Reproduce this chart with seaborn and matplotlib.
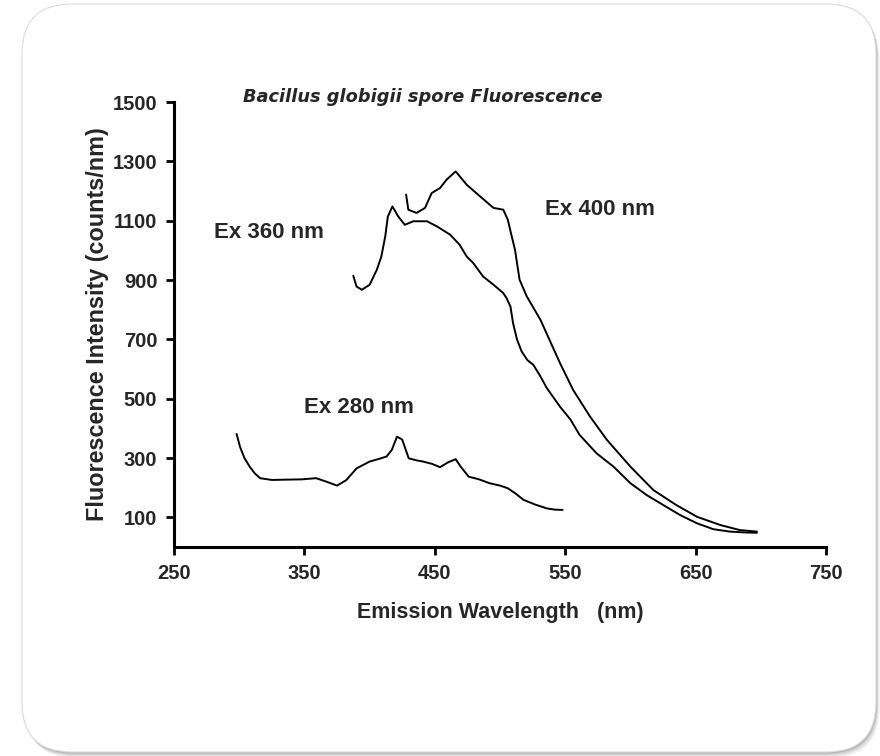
import matplotlib
matplotlib.use("Agg")
import matplotlib.pyplot as plt
import seaborn as sns
import numpy as np
import pandas as pd
from matplotlib.patches import FancyBboxPatch

sns.set_style("white")
plt.rcParams['font.family'] = ['Liberation Sans', 'DejaVu Sans']

# 数据
ex280_wl = [298, 300.6, 304, 308, 312, 316, 325, 336, 348, 359, 367, 375, 382, 390, 400, 408,
            413, 417, 421, 425, 430, 436, 441, 448, 454, 460, 466, 470, 476, 484, 492, 500,
            506, 512, 518, 527, 536, 542, 548]
ex280_val = [381, 338, 300, 271, 248, 232, 226, 227, 228, 232, 220, 207, 225, 265, 288, 298,
             305, 327, 372, 362, 299, 292, 288, 280, 269, 285, 296, 270, 237, 228, 215, 207,
             198, 180, 159, 143, 130, 126, 125]

ex360_wl = [387.5, 390, 394, 400, 405.5, 409, 412, 414, 417.5, 422, 427, 433.5, 444, 451.5,
            461.7, 469, 474.5, 479.5, 487, 495, 502.5, 505, 508, 510, 513, 516.6, 521, 525.6,
            531, 536, 546, 554, 561, 574, 587, 600, 612.5, 625, 638, 651, 663.6, 676, 688, 697]
ex360_val = [914, 878, 867, 884, 934, 979, 1047, 1114, 1148, 1114, 1086, 1098, 1098, 1081,
             1053, 1019, 979, 957, 912, 884, 856, 839, 811, 755, 700, 659, 630, 614,
             575, 535, 473, 430, 378, 316, 271, 215, 175, 142, 108, 80, 60, 52, 49, 48]

ex400_wl = [428, 429.7, 436, 442.5, 447.6, 454, 459, 466, 474.5, 484.7, 495, 502.5, 506, 509,
            511.5, 515, 520.5, 531, 546, 556, 569, 582, 600, 617.6, 635, 651, 669, 684, 697]
ex400_val = [1188, 1137, 1126, 1143, 1193, 1210, 1238, 1266, 1221, 1182, 1143, 1137, 1103, 1047,
             1002, 901, 845, 766, 620, 530, 440, 361, 271, 192, 142, 102, 74, 57, 52]

x_ticks = [250, 350, 450, 550, 650, 750]
y_ticks = [100, 300, 500, 700, 900, 1100, 1300, 1500]

fig = plt.figure(figsize=(8.8, 7.56), dpi=100)
fig.patch.set_facecolor('white')

# 背景卡片（像素坐标）
bg = fig.add_axes([0, 0, 1, 1])
bg.set_xlim(0, 880)
bg.set_ylim(756, 0)
bg.axis('off')
for i, a in enumerate([0.08, 0.12, 0.18, 0.28]):
    off = 6 - i * 1.5
    sh = FancyBboxPatch((22 + 50 + off * 0.6, 4 + 50 + off), 854 - 100, 748 - 100,
                        boxstyle="round,pad=50", fc='#707070', ec='none', alpha=a)
    bg.add_patch(sh)
card = FancyBboxPatch((22 + 50, 4 + 50), 854 - 100, 748 - 100,
                      boxstyle="round,pad=50", fc='white', ec='#dcdcdc', lw=0.8)
bg.add_patch(card)
grad = np.ones((200, 1))
yy = np.linspace(4, 752, 200)
grad[:, 0] = np.where(yy < 300, 1.0, 1.0 - 0.065 * (yy - 300) / 452)
img = bg.imshow(np.dstack([grad, grad, grad]), extent=[22, 876, 752, 4], aspect='auto')
img.set_clip_path(card)

ax = fig.add_axes([174 / 880, 1 - 547 / 756, 652 / 880, 445 / 756])
ax.patch.set_alpha(0)

for wl, val in [(ex280_wl, ex280_val), (ex360_wl, ex360_val), (ex400_wl, ex400_val)]:
    sns.lineplot(x=wl, y=val, color='black', lw=1.4, ax=ax, estimator=None, sort=False)

ax.set_xlim(250, 750)
ax.set_ylim(0, 1500)
ax.set_xticks(x_ticks)
ax.set_yticks(y_ticks)
sns.despine(ax=ax)
for s in ['left', 'bottom']:
    ax.spines[s].set_linewidth(2.2)
    ax.spines[s].set_color('black')
ax.tick_params(axis='both', direction='out', length=6, width=2, color='black',
               bottom=True, left=True)
ax.tick_params(axis='x', labelsize=14.5, pad=6)
ax.tick_params(axis='y', labelsize=14.5, pad=6)
for lab in ax.get_xticklabels() + ax.get_yticklabels():
    lab.set_fontweight('bold')

ax.set_xlabel('Emission Wavelength   (nm)', fontsize=15.5, fontweight='bold', labelpad=14)
ax.set_ylabel('Fluorescence Intensity (counts/nm)', fontsize=16.8, fontweight='bold', labelpad=3)

ax.text(0.382, 1.011, 'Bacillus globigii spore Fluorescence', transform=ax.transAxes,
        ha='center', va='center', fontsize=12.8, fontweight='bold', style='italic',
        family=['DejaVu Sans'])
ax.text(280.7, 1059, 'Ex 360 nm', fontsize=16, fontweight='bold', va='center', ha='left')
ax.text(534.5, 1137, 'Ex 400 nm', fontsize=16, fontweight='bold', va='center', ha='left')
ax.text(349.7, 469, 'Ex 280 nm', fontsize=16, fontweight='bold', va='center', ha='left')

fig.savefig('out.png', dpi=100)
